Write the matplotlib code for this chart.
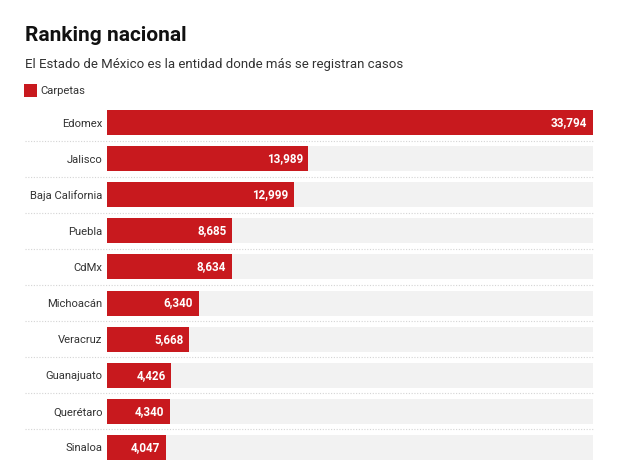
import matplotlib
matplotlib.use("Agg")
import matplotlib.pyplot as plt
from matplotlib.patches import Rectangle
from matplotlib.transforms import blended_transform_factory

categories = ["Edomex", "Jalisco", "Baja California", "Puebla", "CdMx",
              "Michoacán", "Veracruz", "Guanajuato", "Querétaro", "Sinaloa"]
values = [33794, 13989, 12999, 8685, 8634, 6340, 5668, 4426, 4340, 4047]
title = "Ranking nacional"
subtitle = "El Estado de México es la entidad donde más se registran casos"
legend_label = "Carpetas"

RED = "#c8191e"
BG = "#f2f2f2"
plt.rcParams['font.family'] = ['Roboto', 'DejaVu Sans']

W, H = 618, 474
fig = plt.figure(figsize=(W / 100, H / 100), dpi=100)
fig.patch.set_facecolor("white")

left_px, right_px = 107.5, 593
top_px, bot_px = 104.5, 465.5
ax = fig.add_axes([left_px / W, 1 - bot_px / H, (right_px - left_px) / W, (bot_px - top_px) / H])

n = len(categories)
xmax = max(values)
ypos = list(range(n))
bh = 25 / 36
ax.barh(ypos, [xmax] * n, height=bh, color=BG, zorder=1)
ax.barh(ypos, values, height=bh, color=RED, zorder=2)
ax.set_xlim(0, xmax)
ax.set_ylim(n - 0.5, -0.5)
ax.set_yticks(ypos)
ax.set_yticklabels(categories, fontsize=8.1, color="#333333")
ax.tick_params(axis="y", length=0, pad=3.5)
ax.set_xticks([])
for s in ax.spines.values():
    s.set_visible(False)

for i, v in enumerate(values):
    ax.annotate(f"{v:,}", xy=(v, i), xytext=(-4, 0), textcoords="offset points",
                ha="right", va="center", color="white", fontsize=8.4,
                fontweight="bold", zorder=3)

tr = blended_transform_factory(fig.transFigure, ax.transData)
for i in range(n - 1):
    ax.plot([25 / W, right_px / W], [i + 0.5, i + 0.5], transform=tr,
            color="#d4d4d4", lw=0.8, ls=(0, (1, 1.5)), clip_on=False, zorder=0)

fig.text(25 / W, 1 - 40.7 / H, title, fontsize=15, fontweight="bold",
         color="#111111", va="baseline", ha="left")
fig.text(25 / W, 1 - 68 / H, subtitle, fontsize=9.55, color="#333333",
         va="baseline", ha="left")
fig.patches.append(Rectangle((24 / W, 1 - 96.7 / H), 12.7 / W, 12.7 / H,
                             transform=fig.transFigure, facecolor=RED,
                             edgecolor="none", figure=fig))
fig.text(40.7 / W, 1 - 90.5 / H, legend_label, fontsize=8.1, color="#333333",
         va="center", ha="left")

fig.savefig("out.png", dpi=100, facecolor="white")
